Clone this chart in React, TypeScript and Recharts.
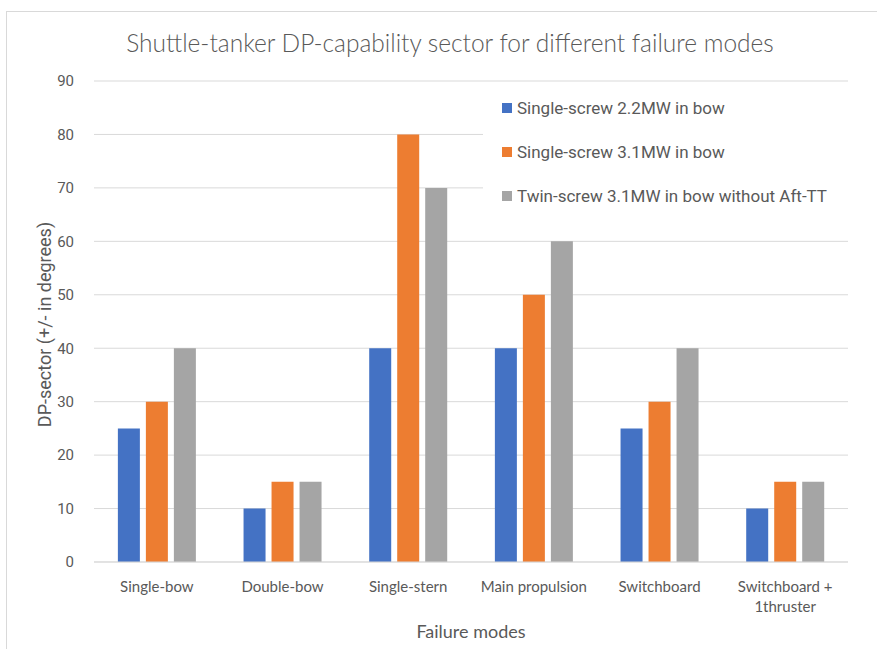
import React from 'react';
import { BarChart, Bar, XAxis, YAxis, CartesianGrid, Legend, Label } from 'recharts';

const failureModes = [
  'Single-bow',
  'Double-bow',
  'Single-stern',
  'Main propulsion',
  'Switchboard',
  'Switchboard + 1thruster',
];
const singleScrew22 = [25, 10, 40, 40, 25, 10];
const singleScrew31 = [30, 15, 80, 50, 30, 15];
const twinScrew31 = [40, 15, 70, 60, 40, 15];
const yTicks = [0, 10, 20, 30, 40, 50, 60, 70, 80, 90];

const series = [
  { key: 's22', name: 'Single-screw 2.2MW in bow', color: '#4472C4' },
  { key: 's31', name: 'Single-screw 3.1MW in bow', color: '#ED7D31' },
  { key: 't31', name: 'Twin-screw 3.1MW in bow without Aft-TT', color: '#A5A5A5' },
];

const data = failureModes.map((mode, i) => ({
  mode,
  s22: singleScrew22[i],
  s31: singleScrew31[i],
  t31: twinScrew31[i],
}));

const W = 877;
const H = 649;
const TEXT = '#595959';
const NARROW = "Lato, sans-serif";
const PLAIN = "Roboto, 'Noto Sans', sans-serif";

function ModeTick({ x, y, payload }: any) {
  const text: string = payload.value;
  const cut = text.indexOf(' + ');
  const lines = cut > 0 ? [text.slice(0, cut + 2), text.slice(cut + 3)] : [text];
  return (
    <g transform={`translate(${x},${y})`}>
      {lines.map((line, i) => (
        <text
          key={i}
          x={0}
          y={0}
          dy={28 + i * 20}
          textAnchor="middle"
          fill={TEXT}
          fontSize={15}
          fontFamily={NARROW}
        >
          {line}
        </text>
      ))}
    </g>
  );
}

function LegendList() {
  return (
    <div style={{ background: '#fff', padding: '8px 0 0 19px', height: 140, boxSizing: 'border-box', textAlign: 'left' }}>
      {series.map((s) => (
        <div
          key={s.key}
          style={{
            display: 'flex',
            alignItems: 'center',
            height: 22,
            marginBottom: 22,
            fontFamily: PLAIN,
            fontSize: 17,
            color: TEXT,
          }}
        >
          <span style={{ width: 10, height: 10, background: s.color, marginRight: 5, display: 'inline-block' }} />
          {s.name}
        </div>
      ))}
    </div>
  );
}

export default function App() {
  return (
    <div style={{ position: 'absolute', left: 0, top: 0, width: W, height: H, overflow: 'hidden', background: '#fff' }}>
      <div
        style={{
          position: 'absolute',
          left: 6,
          top: 11,
          width: W,
          height: H,
          border: '1px solid #d9d9d9',
        }}
      />
      <div
        style={{
          position: 'absolute',
          left: 0,
          top: 28,
          width: 900,
          textAlign: 'center',
          fontFamily: NARROW,
          fontWeight: 300,
          fontSize: 24.5,
          color: TEXT,
        }}
      >
        Shuttle-tanker DP-capability sector for different failure modes
      </div>
      <BarChart
        width={W}
        height={H}
        data={data}
        margin={{ top: 81, right: 29, bottom: 57, left: 0 }}
        barCategoryGap="19%"
        barGap={6}
        style={{ position: 'absolute', left: 0, top: 0 }}
      >
        <CartesianGrid vertical={false} stroke="#d9d9d9" strokeWidth={1} />
        <XAxis
          dataKey="mode"
          height={30}
          axisLine={{ stroke: '#d9d9d9' }}
          tickLine={false}
          tickSize={0}
          tick={<ModeTick />}
          interval={0}
        >
          <Label
            content={({ viewBox }: any) => (
              <text
                x={viewBox.x + viewBox.width / 2}
                y={638}
                textAnchor="middle"
                fill={TEXT}
                fontSize={18}
                fontFamily={NARROW}
              >
                Failure modes
              </text>
            )}
          />
        </XAxis>
        <YAxis
          width={94}
          domain={[0, 90]}
          ticks={yTicks}
          axisLine={false}
          tickLine={false}
          tickMargin={14}
          tick={{ fill: TEXT, fontSize: 15, fontFamily: PLAIN }}
        >
          <Label
            content={({ viewBox }: any) => {
              const cx = viewBox.x + 44;
              const cy = viewBox.y + viewBox.height / 2 + 3;
              return (
                <text
                  x={cx}
                  y={cy}
                  transform={`rotate(-90 ${cx} ${cy})`}
                  textAnchor="middle"
                  dominantBaseline="central"
                  fill={TEXT}
                  fontSize={18}
                  fontFamily={PLAIN}
                >
                  DP-sector (+/- in degrees)
                </text>
              );
            }}
          />
        </YAxis>
        <Legend
          layout="horizontal"
          verticalAlign="middle"
          align="center"
          content={<LegendList />}
          wrapperStyle={{ position: 'absolute', left: 483, top: 89, width: 394, height: 140 }}
        />
        {series.map((s) => (
          <Bar key={s.key} dataKey={s.key} name={s.name} fill={s.color} isAnimationActive={false} />
        ))}
      </BarChart>
    </div>
  );
}
